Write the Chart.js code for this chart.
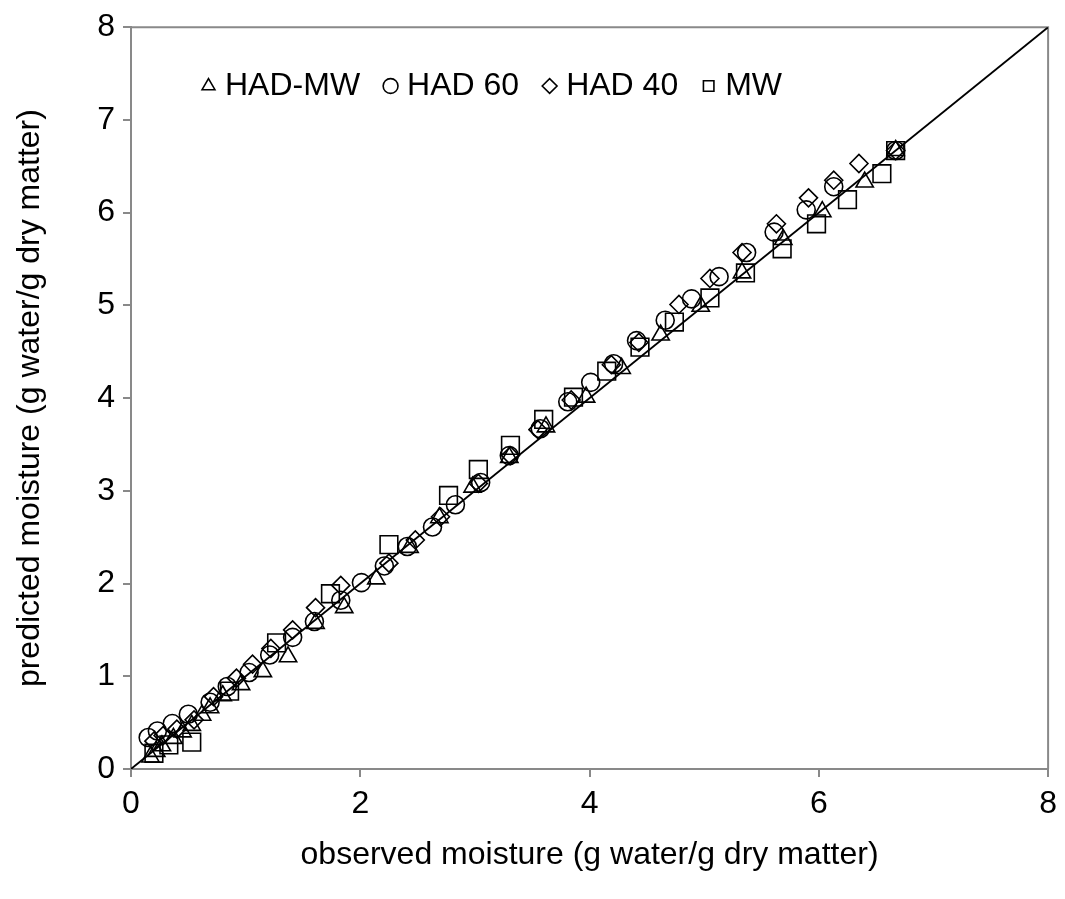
<!DOCTYPE html>
<html>
<head>
<meta charset="utf-8">
<script src="https://cdn.jsdelivr.net/npm/chart.js@4.4.1/dist/chart.umd.min.js"></script>
<style>
  html, body { margin: 0; padding: 0; background: #ffffff; }
  #wrap { width: 1065px; height: 899px; position: relative; }
</style>
</head>
<body>
<div id="wrap"><canvas id="c"></canvas></div>
<script>
// ---- data ----
const seriesNames = ["HAD-MW", "HAD 60", "HAD 40", "MW"];

const hadmwObserved  = [0.17,0.22,0.27,0.37,0.45,0.53,0.62,0.69,0.80,0.96,1.15,1.37,1.61,1.86,2.14,2.43,2.69,2.98,3.30,3.62,3.97,4.28,4.62,4.97,5.33,5.69,6.03,6.40,6.67];
const hadmwPredicted = [0.13,0.19,0.25,0.33,0.40,0.47,0.58,0.66,0.79,0.91,1.05,1.21,1.57,1.74,2.05,2.39,2.71,3.04,3.36,3.69,4.01,4.32,4.68,4.99,5.35,5.71,6.01,6.33,6.67];

const had60Observed  = [0.15,0.23,0.36,0.50,0.69,0.84,1.03,1.21,1.41,1.60,1.83,2.01,2.21,2.41,2.63,2.83,3.05,3.30,3.57,3.81,4.01,4.21,4.41,4.66,4.89,5.13,5.37,5.61,5.89,6.13,6.67];
const had60Predicted = [0.34,0.41,0.49,0.59,0.72,0.89,1.04,1.23,1.42,1.59,1.82,2.01,2.19,2.40,2.61,2.85,3.09,3.38,3.67,3.96,4.17,4.37,4.62,4.84,5.07,5.31,5.57,5.79,6.03,6.28,6.67];

const had40Observed  = [0.20,0.28,0.40,0.55,0.72,0.92,1.06,1.22,1.41,1.61,1.83,2.25,2.48,2.70,3.03,3.31,3.55,3.84,4.19,4.43,4.78,5.05,5.33,5.63,5.91,6.13,6.35,6.67];
const had40Predicted = [0.30,0.36,0.43,0.53,0.78,0.98,1.13,1.30,1.50,1.74,1.98,2.22,2.47,2.72,3.08,3.38,3.66,3.98,4.36,4.60,5.01,5.29,5.57,5.88,6.16,6.35,6.53,6.67];

const mwObserved  = [0.20,0.33,0.53,0.86,1.27,1.74,2.25,2.77,3.03,3.31,3.60,3.86,4.15,4.44,4.74,5.05,5.36,5.68,5.98,6.25,6.55,6.67];
const mwPredicted = [0.17,0.26,0.29,0.84,1.36,1.89,2.42,2.95,3.23,3.49,3.77,4.01,4.29,4.55,4.82,5.08,5.35,5.61,5.88,6.14,6.42,6.67];

const lineX = [0, 8];
const lineY = [0, 8];

const xTicks = [0, 2, 4, 6, 8];
const yTicks = [0, 1, 2, 3, 4, 5, 6, 7, 8];

const xTitle = "observed moisture (g water/g dry matter)";
const yTitle = "predicted moisture (g water/g dry matter)";

// ---- build ----
const pts = (xs, ys) => xs.map((x, i) => ({x: x, y: ys[i]}));
const FONT = "'Liberation Sans', Arial, sans-serif";
const AXIS_GRAY = '#898989';
const LEGEND_PAD = 30;

function markerSet(label, xs, ys, style, r) {
  return {
    type: 'scatter', label: label, data: pts(xs, ys),
    pointStyle: style, pointRadius: r, pointHoverRadius: r,
    borderColor: '#000', backgroundColor: 'rgba(0,0,0,0)', borderWidth: 1.6
  };
}

// legend sits inside the plot area, in one row, without taking layout space
const legendInside = {
  id: 'legendInside',
  beforeLayout(chart) {
    const lg = chart.legend;
    if (lg && !lg._inside) {
      const origFit = lg.fit.bind(lg);
      lg.fit = function () { origFit(); this.height = 0; };
      lg._inside = true;
    }
  },
  afterLayout(chart) {
    const lg = chart.legend;
    if (lg) {
      lg.left = 208 - LEGEND_PAD; lg.right = 1060;
      lg.top = 40; lg.bottom = 40 + 80;
      lg.width = lg.right - lg.left; lg.height = lg.bottom - lg.top;
    }
  }
};

const frame = {
  id: 'frame',
  beforeDatasetsDraw(chart) {
    const {ctx, chartArea: {left, top, right, bottom}} = chart;
    ctx.save();
    ctx.strokeStyle = AXIS_GRAY; ctx.lineWidth = 2;
    ctx.beginPath();
    ctx.moveTo(left, top); ctx.lineTo(right, top); ctx.lineTo(right, bottom);
    ctx.stroke();
    ctx.restore();
  }
};

new Chart(document.getElementById('c'), {
  data: {
    datasets: [
      markerSet(seriesNames[0], hadmwObserved, hadmwPredicted, 'triangle', 10),
      markerSet(seriesNames[1], had60Observed, had60Predicted, 'circle', 9),
      markerSet(seriesNames[2], had40Observed, had40Predicted, 'rectRot', 9),
      markerSet(seriesNames[3], mwObserved, mwPredicted, 'rect', 12.5),
      {
        type: 'line', label: '1:1', data: pts(lineX, lineY),
        borderColor: '#000', borderWidth: 1.8, pointRadius: 0, fill: false, tension: 0
      }
    ]
  },
  options: {
    responsive: true, maintainAspectRatio: false, animation: false,
    layout: { padding: { top: 18, right: 15, left: 0, bottom: 0 } },
    plugins: {
      tooltip: { enabled: false },
      legend: {
        position: 'top', align: 'start',
        labels: {
          usePointStyle: true, boxWidth: 1, boxHeight: 10.5, padding: LEGEND_PAD,
          color: '#000', font: { family: FONT, size: 32 },
          filter: (item) => item.text !== '1:1'
        }
      }
    },
    scales: {
      x: {
        type: 'linear', min: 0, max: 8,
        afterFit: (s) => { s.height = 130; },
        afterBuildTicks: (s) => { s.ticks = xTicks.map(v => ({value: v})); },
        ticks: { color: '#000', font: { family: FONT, size: 32 }, padding: 8, maxRotation: 0 },
        grid: { display: true, drawOnChartArea: false, drawTicks: true, tickLength: 8, color: AXIS_GRAY, lineWidth: 2 },
        border: { display: true, color: AXIS_GRAY, width: 2 },
        title: { display: true, text: xTitle, color: '#000', font: { family: FONT, size: 32 }, padding: { top: 0, bottom: 25 } }
      },
      y: {
        type: 'linear', min: 0, max: 8,
        afterFit: (s) => { s.width = 131; },
        afterBuildTicks: (s) => { s.ticks = yTicks.map(v => ({value: v})); },
        ticks: { color: '#000', font: { family: FONT, size: 32 }, padding: 8 },
        grid: { display: true, drawOnChartArea: false, drawTicks: true, tickLength: 8, color: AXIS_GRAY, lineWidth: 2 },
        border: { display: true, color: AXIS_GRAY, width: 2 },
        title: { display: true, text: yTitle, color: '#000', font: { family: FONT, size: 32 }, padding: { top: 11, bottom: 0 } }
      }
    }
  },
  plugins: [legendInside, frame]
});
</script>
</body>
</html>
